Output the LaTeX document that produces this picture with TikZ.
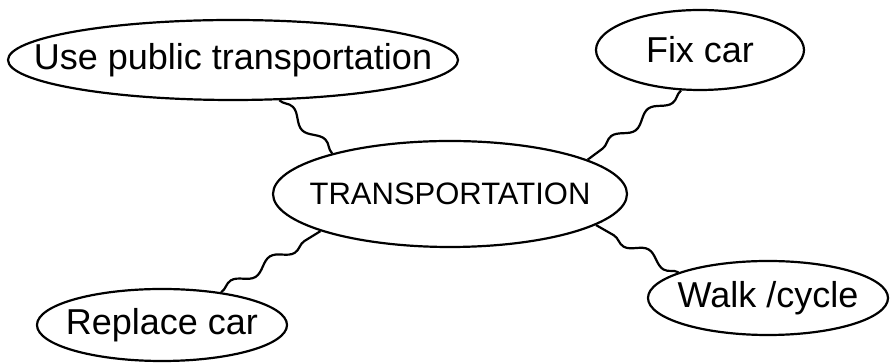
\documentclass[tikz,border=0pt]{standalone}
\usepackage{fontspec}
\setmainfont{Liberation Sans}
\usepackage{xcolor}
\usepackage{tikz}
\usetikzlibrary{shapes,decorations.pathmorphing}

\tikzset{
  bubble/.style={draw,ellipse,line width=2.2pt,inner sep=0pt},
  idea/.style={font=\fontsize{36}{40}\selectfont},
  link/.style={line width=2.2pt,decorate,
    decoration={snake,segment length=46pt,amplitude=5pt}}
}

\begin{document}
\begin{tikzpicture}[x=1pt,y=1pt]
  \useasboundingbox (0,0) rectangle (891,363);
  % center
  \node[bubble,minimum width=354pt,minimum height=106pt,
    label={[font=\fontsize{31}{34}\selectfont]center:TRANSPORTATION}] (hub) at (450,169) {};
  % ideas
  \node[bubble,minimum width=450pt,minimum height=80pt,
    label={[idea]center:Use public transportation}] (bus) at (233,303) {};
  \node[bubble,minimum width=208pt,minimum height=80pt,
    label={[idea]center:Fix car}] (fix) at (700,313) {};
  \node[bubble,minimum width=250pt,minimum height=72pt,
    label={[idea]center:Replace car}] (replace) at (162,38) {};
  \node[bubble,minimum width=240pt,minimum height=74pt,
    label={[idea]center:Walk /cycle}] (walk) at (768,65) {};
  % links
  \draw[link] (bus.-41) -- (hub.161);
  \draw[link] (fix.-115) -- (hub.14);
  \draw[link] (replace.29) -- (hub.-164);
  \draw[link] (walk.164) -- (hub.-12);
\end{tikzpicture}
\end{document}
